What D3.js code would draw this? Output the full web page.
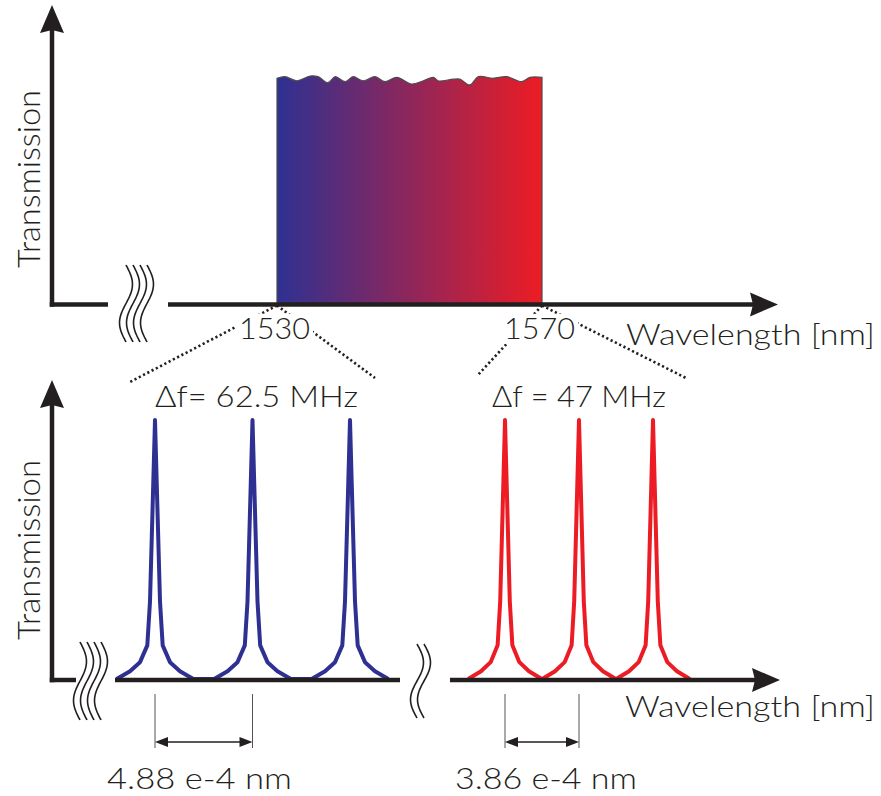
<!DOCTYPE html>
<html>
<head>
<meta charset="utf-8">
<script src="https://cdn.jsdelivr.net/npm/d3@7"></script>
<style>
  html, body { margin: 0; padding: 0; background: #fff; }
  svg { display: block; }
</style>
</head>
<body>
<svg id="chart" width="881" height="796"></svg>
<script>
// ---- Broadband transmission window (top panel) ----
const bandWavelength = [1530.0, 1531.2, 1533.0, 1535.0, 1536.2, 1537.7, 1538.8, 1540.3, 1541.5, 1543.0,
                        1544.8, 1546.3, 1548.1, 1550.3, 1552.1, 1553.6, 1554.3, 1556.6, 1557.6, 1559.1,
                        1560.4, 1562.6, 1564.7, 1566.9, 1568.2, 1570.0];
const bandTransmission = [0.990, 0.997, 0.979, 1.000, 0.997, 0.971, 0.997, 0.975, 0.997, 0.979,
                          0.997, 0.975, 0.994, 0.965, 0.979, 0.994, 0.979, 0.986, 0.986, 0.961,
                          0.997, 0.990, 0.997, 0.975, 0.994, 0.994];
const bandTicks = [1530, 1570];

// ---- Resonance combs (bottom panel), offsets in units of 1e-4 nm ----
const bluePeaks = [0, 4.88, 9.76];
const redPeaks = [0, 3.86, 7.72];
const blueSpacingLabel = "4.88 e-4 nm";
const redSpacingLabel = "3.86 e-4 nm";
const blueFsrLabel = "\u0394f= 62.5 MHz";
const redFsrLabel = "\u0394f = 47 MHz";
// single resonance line shape: offset from centre (1e-4 nm) and relative transmission
const profileOffset = [-1.92, -1.25, -0.75, -0.385, -0.25, -0.085, 0, 0.085, 0.25, 0.385, 0.75, 1.25, 1.92];
const profileTransmission = [0, 0.03, 0.065, 0.13, 0.30, 0.76, 1, 0.76, 0.30, 0.13, 0.065, 0.03, 0];

const yLabel = "Transmission";
const xLabel = "Wavelength [nm]";

const ink = "#231f20";
const blue = "#2e3192";
const red = "#ed1c24";
const font = "Lato, 'Open Sans', sans-serif";
const fontWeight = 300;
const fontSize = 30;

const svg = d3.select("#chart");

// ---------- helpers ----------
function arrowHead(g, tipX, tipY, dir) {
  // dir: "up" or "right"; slightly notched filled head
  const L = 28, hw = 12, notch = 3;
  const p = d3.path();
  if (dir === "up") {
    p.moveTo(tipX, tipY);
    p.lineTo(tipX + hw, tipY + L);
    p.lineTo(tipX, tipY + L - notch);
    p.lineTo(tipX - hw, tipY + L);
  } else {
    p.moveTo(tipX, tipY);
    p.lineTo(tipX - L, tipY - hw);
    p.lineTo(tipX - L + notch, tipY);
    p.lineTo(tipX - L, tipY + hw);
  }
  p.closePath();
  g.append("path").attr("d", p.toString()).attr("fill", ink);
}

function hLine(g, x1, x2, y) {
  g.append("line").attr("x1", x1).attr("x2", x2).attr("y1", y).attr("y2", y)
    .attr("stroke", ink).attr("stroke-width", 4.5);
}
function vLine(g, x, y1, y2) {
  g.append("line").attr("x1", x).attr("x2", x).attr("y1", y1).attr("y2", y2)
    .attr("stroke", ink).attr("stroke-width", 4.5);
}

// axis-break squiggles: n wavy strokes crossing the axis
function breakMark(g, x0, yTop, yBot, n) {
  const amp = 6.5, gap = 7, steps = 40;
  for (let k = 0; k < n; k++) {
    const pts = d3.range(steps + 1).map(i => {
      const t = i / steps;
      return [x0 + k * gap + amp * Math.sin(2 * Math.PI * t), yTop + t * (yBot - yTop)];
    });
    g.append("path").attr("d", d3.line().curve(d3.curveBasis)(pts))
      .attr("fill", "none").attr("stroke", ink).attr("stroke-width", 1.6);
  }
}

function styleText(sel) {
  return sel.attr("font-family", font).attr("font-size", fontSize)
    .attr("font-weight", fontWeight).attr("fill", ink);
}

function rotatedLabel(x, yCenter, len) {
  styleText(svg.append("text"))
    .attr("transform", `translate(${x},${yCenter}) rotate(-90)`)
    .attr("text-anchor", "middle")
    .attr("font-size", fontSize + 1)
    .attr("textLength", len).attr("lengthAdjust", "spacingAndGlyphs")
    .text(yLabel);
}

function textAt(str, x, y, len) {
  return styleText(svg.append("text"))
    .attr("x", x).attr("y", y)
    .attr("textLength", len).attr("lengthAdjust", "spacingAndGlyphs")
    .text(str);
}

function dotted(x1, y1, x2, y2) {
  svg.append("line").attr("x1", x1).attr("y1", y1).attr("x2", x2).attr("y2", y2)
    .attr("stroke", ink).attr("stroke-width", 2.6)
    .attr("stroke-dasharray", "2.2,2.6");
}

// ================= TOP PANEL =================
const topX = d3.scaleLinear().domain([1530, 1570]).range([277, 542]);
const topY = d3.scaleLinear().domain([0, 1]).range([304, 76]);
const topAxisY = 304.5;

const defs = svg.append("defs");
const grad = defs.append("linearGradient").attr("id", "band").attr("x1", "0").attr("x2", "1").attr("y1", "0").attr("y2", "0");
grad.append("stop").attr("offset", "0%").attr("stop-color", blue);
grad.append("stop").attr("offset", "100%").attr("stop-color", red);

const bandData = bandWavelength.map((w, i) => ({ w, t: bandTransmission[i] }));
const bandArea = d3.area()
  .x(d => topX(d.w))
  .y0(topY(0))
  .y1(d => topY(d.t))
  .curve(d3.curveCatmullRom.alpha(0.5));
svg.append("path").datum(bandData).attr("d", bandArea)
  .attr("fill", "url(#band)").attr("stroke", "#4d4d4d").attr("stroke-width", 1.2);

// dotted zoom guides from the band edges down to the detailed combs
const guideY0 = topAxisY + 1;
dotted(topX(1530), guideY0, 130, 382);
dotted(topX(1530), guideY0, 375, 378);
dotted(topX(1570), guideY0, 477, 376);
dotted(topX(1570), guideY0, 686, 378);

const topAxes = svg.append("g");
vLine(topAxes, 52, topAxisY + 2.25, 30);
arrowHead(topAxes, 52, 5, "up");
hLine(topAxes, 49.75, 108, topAxisY);
hLine(topAxes, 168, 755, topAxisY);
arrowHead(topAxes, 778, topAxisY, "right");
breakMark(topAxes, 126, 265, 342, 4);

// tick labels with white backing so the guides pass behind them
const tickG = svg.append("g").attr("transform", `translate(0,${topAxisY})`)
  .call(d3.axisBottom(topX).tickValues(bandTicks).tickSize(0).tickPadding(13).tickFormat(d3.format("d")));
tickG.select(".domain").remove();
styleText(tickG.selectAll("text")).attr("dx", -3).attr("textLength", 71).attr("lengthAdjust", "spacingAndGlyphs");
tickG.selectAll(".tick").each(function () {
  const t = d3.select(this).select("text");
  const bb = t.node().getBBox();
  d3.select(this).insert("rect", "text")
    .attr("x", bb.x - 3).attr("y", bb.y + 5).attr("width", bb.width + 6).attr("height", bb.height - 6)
    .attr("fill", "#fff");
});

rotatedLabel(40, 179, 178);
textAt(xLabel, 626, 345, 249);

// ================= BOTTOM PANEL =================
const botAxisY = 680;
const yB = d3.scaleLinear().domain([0, 1]).range([679, 420]);
const blueX = d3.scaleLinear().domain([0, 9.76]).range([155, 350]);
const redX = d3.scaleLinear().domain([0, 7.72]).range([505, 653]);

function combPoints(peaks) {
  const pts = [];
  peaks.forEach(p => {
    profileOffset.forEach((o, i) => pts.push({ x: p + o, t: profileTransmission[i] }));
  });
  return pts;
}

function drawComb(peaks, xs, color) {
  const line = d3.line().x(d => xs(d.x)).y(d => yB(d.t));
  svg.append("path").datum(combPoints(peaks)).attr("d", line)
    .attr("fill", "none").attr("stroke", color).attr("stroke-width", 4)
    .attr("stroke-linejoin", "round").attr("stroke-linecap", "butt");
}
drawComb(bluePeaks, blueX, blue);
drawComb(redPeaks, redX, red);

const botAxes = svg.append("g");
vLine(botAxes, 52, botAxisY + 2.25, 405);
arrowHead(botAxes, 52, 380, "up");
hLine(botAxes, 49.75, 76, botAxisY);
hLine(botAxes, 115, 400, botAxisY);
hLine(botAxes, 450, 757, botAxisY);
arrowHead(botAxes, 780, botAxisY, "right");
breakMark(botAxes, 80, 642, 720, 4);
breakMark(botAxes, 417, 644, 718, 2);

rotatedLabel(40, 550, 180);
textAt(xLabel, 625, 717, 250);

textAt(blueFsrLabel, 155, 407, 203);
textAt(redFsrLabel, 492, 407, 174);

// spacing dimension markers between the first two resonances
function dimension(x1, x2) {
  const g = svg.append("g");
  [x1, x2].forEach(x => g.append("line").attr("x1", x).attr("x2", x).attr("y1", 694).attr("y2", 748)
    .attr("stroke", "#555").attr("stroke-width", 1));
  const y = 742;
  g.append("line").attr("x1", x1 + 8).attr("x2", x2 - 8).attr("y1", y).attr("y2", y)
    .attr("stroke", ink).attr("stroke-width", 1.3);
  const L = 13, hw = 5;
  g.append("path").attr("d", `M${x1},${y}L${x1 + L},${y - hw}L${x1 + L},${y + hw}Z`).attr("fill", ink);
  g.append("path").attr("d", `M${x2},${y}L${x2 - L},${y - hw}L${x2 - L},${y + hw}Z`).attr("fill", ink);
}
dimension(blueX(bluePeaks[0]), blueX(bluePeaks[1]));
dimension(redX(redPeaks[0]), redX(redPeaks[1]));

textAt(blueSpacingLabel, 107, 789, 185);
textAt(redSpacingLabel, 455, 789, 182);
</script>
</body>
</html>
